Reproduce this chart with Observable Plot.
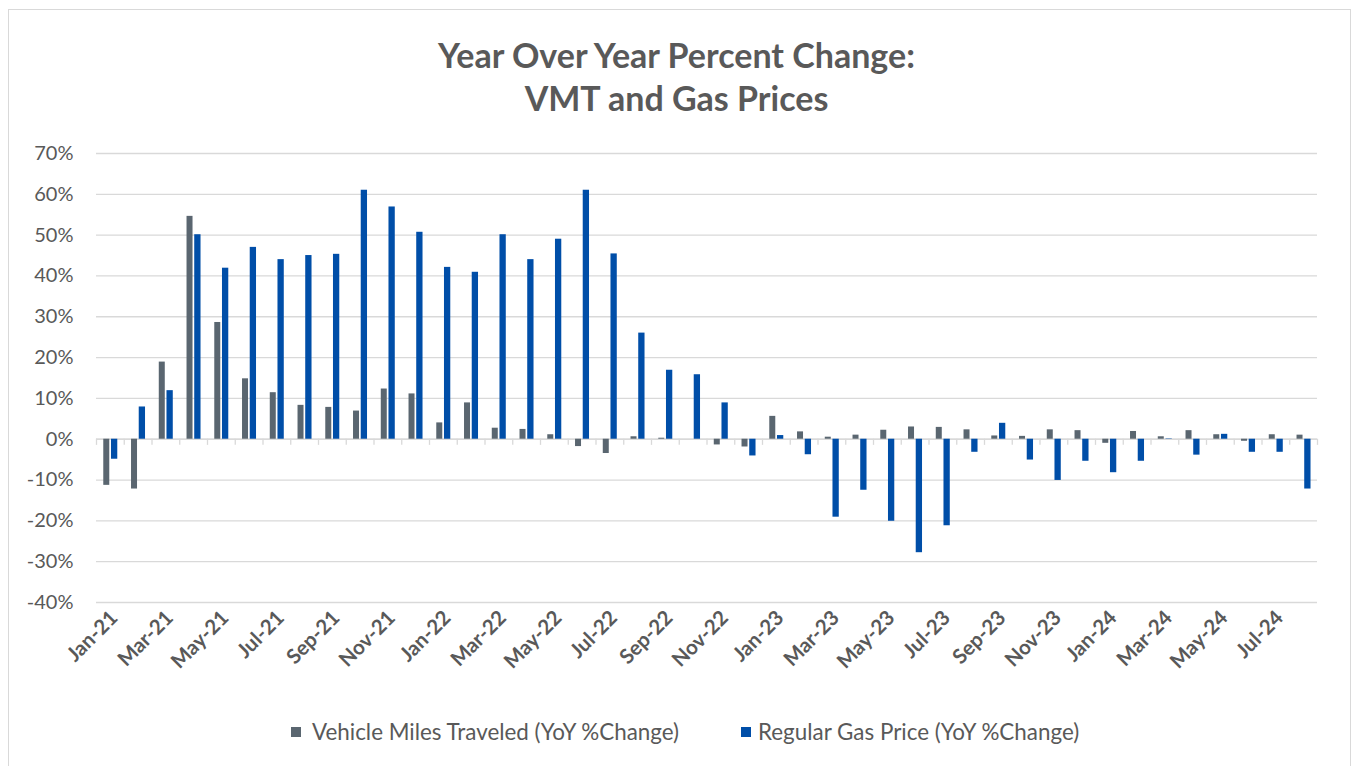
<!DOCTYPE html>
<html>
<head>
<meta charset="utf-8">
<script src="https://cdn.jsdelivr.net/npm/d3@7"></script>
<script src="https://cdn.jsdelivr.net/npm/@observablehq/plot@0.6"></script>
<style>
  html, body { margin: 0; padding: 0; background: #fff; }
  body { width: 1353px; height: 766px; overflow: hidden; position: relative; font-family: Lato, "Open Sans", sans-serif; color: #595959; }
  #frame { position: absolute; left: 8px; top: 9px; width: 1343px; height: 770px; border: 1px solid #d9d9d9; box-sizing: border-box; }
  #title { position: absolute; left: 0; top: 33px; width: 1353px; text-align: center; font-weight: 700; font-size: 34px; line-height: 43px; color: #595959; }
  #chart { position: absolute; left: 0; top: 130px; }
  .lg { position: absolute; top: 718px; font-size: 22.4px; line-height: 28px; color: #595959; white-space: nowrap; }
  .sw { position: absolute; width: 10px; height: 10px; top: 727px; }
</style>
</head>
<body>
<div id="frame"></div>
<div id="title">Year Over Year Percent Change:<br>VMT and Gas Prices</div>
<div id="chart"></div>
<div class="sw" id="sw1"></div><div class="lg" id="lg1"></div>
<div class="sw" id="sw2"></div><div class="lg" id="lg2"></div>
<script>
const months = ["Jan-21","Feb-21","Mar-21","Apr-21","May-21","Jun-21","Jul-21","Aug-21","Sep-21","Oct-21","Nov-21","Dec-21",
  "Jan-22","Feb-22","Mar-22","Apr-22","May-22","Jun-22","Jul-22","Aug-22","Sep-22","Oct-22","Nov-22","Dec-22",
  "Jan-23","Feb-23","Mar-23","Apr-23","May-23","Jun-23","Jul-23","Aug-23","Sep-23","Oct-23","Nov-23","Dec-23",
  "Jan-24","Feb-24","Mar-24","Apr-24","May-24","Jun-24","Jul-24","Aug-24"];
// Vehicle Miles Traveled, YoY % change
const vmt = [-11.3,-12.2,18.9,54.6,28.6,14.8,11.4,8.3,7.8,6.9,12.3,11.1,
  4.0,8.9,2.7,2.4,1.1,-1.8,-3.5,0.6,0.25,0,-1.4,-1.9,
  5.6,1.8,0.5,1.0,2.2,3.0,2.9,2.3,0.8,0.7,2.3,2.1,
  -1.0,1.9,0.6,2.1,1.1,-0.5,1.1,1.0];
// Regular gas price, YoY % change
const gas = [-4.9,7.9,11.9,50.1,41.9,47.0,44.0,45.0,45.3,61.0,56.9,50.7,
  42.1,40.9,50.1,44.0,49.0,61.0,45.4,26.0,16.9,15.8,8.9,-4.1,
  0.9,-3.8,-19.1,-12.5,-20.1,-27.8,-21.2,-3.2,3.9,-5.1,-10.1,-5.4,
  -8.2,-5.4,0.1,-3.9,1.2,-3.2,-3.2,-12.2];
const yTicks = [-40,-30,-20,-10,0,10,20,30,40,50,60,70];
const xTicks = months.filter((m, i) => i % 2 === 0);
const seriesNames = ["Vehicle Miles Traveled (YoY %Change)", "Regular Gas Price (YoY %Change)"];
const seriesColors = ["#5a6670", "#004ea8"];

const rows = months.map((m, i) => ({month: m, vmt: vmt[i], gas: gas[i]}));
const W = 1353, plotLeft = 96, plotRight = 1317;
const bw = (plotRight - plotLeft) / months.length;

const chart = Plot.plot({
  width: W, height: 560,
  marginTop: 23, marginBottom: 88, marginLeft: plotLeft, marginRight: W - plotRight,
  style: {fontFamily: "Lato, sans-serif", fontSize: "20px", color: "#595959", background: "transparent", overflow: "visible"},
  x: {type: "band", domain: months, padding: 0},
  y: {domain: [-40, 70]},
  marks: [
    Plot.gridY({ticks: yTicks, stroke: "#d9d9d9", strokeOpacity: 1, strokeWidth: 1.3}),
    Plot.ruleY([0], {stroke: "#d9d9d9", strokeWidth: 1.3}),
    Plot.ruleX(rows, {x: "month", y1: 0, y2: -1.5, dx: -bw / 2, stroke: "#d9d9d9", strokeWidth: 1.3}),
    Plot.ruleX(rows.slice(-1), {x: "month", y1: 0, y2: -1.5, dx: bw / 2, stroke: "#d9d9d9", strokeWidth: 1.3}),
    Plot.barY(rows, {x: "month", y: "vmt", fill: seriesColors[0], insetLeft: bw / 2 - 6.6, insetRight: bw / 2 + 0.6}),
    Plot.barY(rows, {x: "month", y: "gas", fill: seriesColors[1], insetLeft: bw / 2 + 1.1, insetRight: bw / 2 - 7.4}),
    Plot.axisY({ticks: yTicks, tickSize: 0, tickPadding: 23, tickFormat: d => d + "%", fontSize: 20}),
    Plot.axisX({ticks: xTicks, tickSize: 0, tickPadding: 10, tickRotate: -45, fontSize: 20.5, fontWeight: "bold", dx: 4, dy: 2, label: null})
  ]
});
document.getElementById("chart").appendChild(chart);

const sw1 = document.getElementById("sw1"), sw2 = document.getElementById("sw2");
sw1.style.left = "291px"; sw1.style.background = seriesColors[0];
sw2.style.left = "741px"; sw2.style.background = seriesColors[1];
const lg1 = document.getElementById("lg1"), lg2 = document.getElementById("lg2");
lg1.style.left = "312px"; lg1.textContent = seriesNames[0];
lg2.style.left = "758px"; lg2.textContent = seriesNames[1];
</script>
</body>
</html>
